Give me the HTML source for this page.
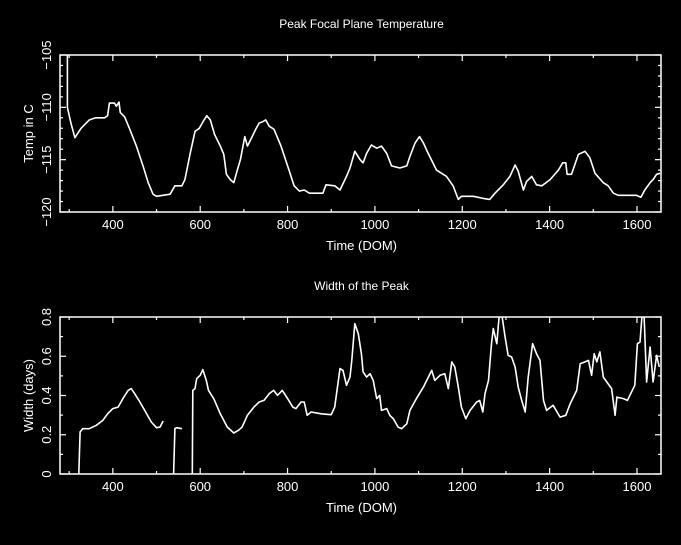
<!DOCTYPE html>
<html><head><meta charset="utf-8"><style>
html,body{margin:0;padding:0;background:#000;}
svg text{font-family:"Liberation Sans","DejaVu Sans",sans-serif;fill:#fff;}
</style></head><body>
<svg id="c" width="681" height="540" xmlns="http://www.w3.org/2000/svg"></svg>
<script>
const tempDom=[296,296,304,313,327,346,361,381,388,392,404,408,414,417,427,438,454,469,481,492,500,531,542,558,565,577,588,598,609,615,623,633,646,654,660,669,677,685,692,702,708,719,727,735,742,750,758,769,785,800,815,827,838,850,881,888,908,920,935,943,954,966,973,981,992,1004,1015,1027,1038,1057,1073,1080,1092,1102,1111,1122,1141,1164,1179,1191,1198,1225,1248,1263,1275,1294,1309,1321,1328,1340,1347,1359,1370,1382,1401,1420,1430,1437,1440,1450,1466,1481,1492,1504,1523,1534,1546,1557,1599,1609,1618,1630,1637,1645,1653];
const tempVal=[-104,-110,-111.5,-112.9,-112,-111.2,-111,-111,-110.8,-109.6,-109.6,-109.9,-109.5,-110.5,-110.9,-112,-113.7,-115.6,-117.2,-118.3,-118.5,-118.3,-117.5,-117.5,-116.9,-114.4,-112.3,-112,-111.2,-110.8,-111.2,-112.6,-113.7,-114.5,-116.4,-116.9,-117.2,-116,-115,-112.8,-113.7,-112.8,-112.1,-111.5,-111.4,-111.2,-111.8,-112.1,-113.7,-115.6,-117.5,-118,-117.9,-118.2,-118.2,-117.4,-117.5,-117.9,-116.6,-115.8,-114.2,-115,-115.3,-114.4,-113.6,-113.9,-113.7,-114.4,-115.6,-115.8,-115.6,-114.7,-113.4,-112.8,-113.4,-114.4,-116,-116.6,-117.5,-118.8,-118.5,-118.5,-118.7,-118.8,-118.2,-117.4,-116.6,-115.5,-116.1,-117.9,-117.1,-116.6,-117.4,-117.5,-116.9,-116,-115.3,-115.3,-116.4,-116.4,-114.5,-114.2,-114.8,-116.3,-117.2,-117.5,-118.2,-118.4,-118.4,-118.6,-117.9,-117.2,-116.9,-116.4,-116.3];
const widthSeg1Dom=[322,325,331,346,362,377,388,400,412,423,435,442,450,462,473,488,500,508,515];
const widthSeg1Val=[0,0.214,0.231,0.231,0.248,0.273,0.307,0.333,0.341,0.384,0.426,0.435,0.409,0.367,0.324,0.265,0.236,0.239,0.27];
const widthSeg2Dom=[539,542,546,558];
const widthSeg2Val=[0,0.231,0.236,0.231];
const widthSeg3Dom=[582,583,588,592,600,606,614,619,631,646,662,677,688,696,708,723,735,746,758,768,777,788,800,812,819,831,838,845,854,877,900,908,920,927,935,943,947,954,962,969,973,981,989,996,1004,1011,1015,1027,1034,1042,1053,1061,1073,1080,1095,1111,1130,1137,1149,1160,1168,1176,1183,1191,1198,1208,1218,1233,1240,1247,1252,1260,1267,1271,1279,1285,1290,1298,1305,1313,1321,1328,1336,1344,1351,1361,1370,1378,1386,1393,1408,1424,1437,1447,1462,1470,1481,1489,1496,1502,1508,1515,1523,1531,1542,1550,1554,1569,1578,1595,1601,1607,1612,1616,1622,1630,1637,1645,1651];
const widthSeg3Val=[0,0.426,0.435,0.486,0.503,0.532,0.477,0.426,0.384,0.307,0.239,0.209,0.223,0.239,0.299,0.341,0.367,0.375,0.409,0.426,0.401,0.426,0.384,0.341,0.333,0.367,0.367,0.299,0.316,0.307,0.302,0.341,0.537,0.528,0.452,0.494,0.579,0.766,0.715,0.613,0.52,0.494,0.511,0.477,0.384,0.401,0.324,0.333,0.299,0.282,0.239,0.231,0.256,0.324,0.384,0.443,0.528,0.477,0.503,0.511,0.435,0.571,0.545,0.443,0.341,0.282,0.324,0.367,0.375,0.316,0.409,0.477,0.664,0.741,0.664,0.82,0.82,0.698,0.605,0.596,0.545,0.443,0.375,0.316,0.494,0.664,0.613,0.579,0.375,0.324,0.35,0.29,0.299,0.358,0.426,0.562,0.571,0.579,0.503,0.613,0.571,0.622,0.494,0.469,0.435,0.299,0.392,0.384,0.375,0.452,0.664,0.672,0.82,0.82,0.469,0.647,0.469,0.605,0.545];
const xTicks=[400,600,800,1000,1200,1400,1600];
const topYTicks=[-120,-115,-110,-105];
const botYTicks=[0,0.2,0.4,0.6,0.8];

const NS='http://www.w3.org/2000/svg';
const svg=document.getElementById('c');
const L=60,R=661,XMIN=279,XMAX=1655;
const xs=d=>L+(d-XMIN)*(R-L)/(XMAX-XMIN);
function mk(tag,attrs,parent){const e=document.createElementNS(NS,tag);for(const k in attrs)e.setAttribute(k,attrs[k]);(parent||svg).appendChild(e);return e;}
function panel(id,top,bot,ymin,ymax,major,minor,yTicks,fmt,title,ytitle,series){
  const ys=v=>bot-(v-ymin)*(bot-top)/(ymax-ymin);
  const g=mk('g',{});
  
  
  const cp=mk('clipPath',{id:id+'-clip'},g);
  mk('rect',{x:L,y:top,width:R-L,height:bot-top},cp);
  const fr=mk('rect',{x:L,y:top,width:R-L,height:bot-top,fill:'none',stroke:'#fff','stroke-width':1.5},g);
  
  
  for(let d=300;d<=XMAX;d+=100){const big=d%200===0;const l=big?6:3;const x=xs(d);
    mk('line',{x1:x,y1:bot,x2:x,y2:bot-l,stroke:'#fff','stroke-width':1.2},g);
    mk('line',{x1:x,y1:top,x2:x,y2:top+l,stroke:'#fff','stroke-width':1.2},g);}
  xTicks.forEach(d=>{const t=mk('text',{x:xs(d),y:bot+17,'text-anchor':'middle','font-size':13},g);t.textContent=d;
    
    });
  const n=Math.round((ymax-ymin)/minor);
  for(let i=0;i<=n;i++){const v=ymin+i*minor;const big=Math.abs(Math.round(v/major)*major-v)<1e-9;const l=big?6:3;const y=ys(v);
    mk('line',{x1:L,y1:y,x2:L+l,y2:y,stroke:'#fff','stroke-width':1.2},g);
    mk('line',{x1:R,y1:y,x2:R-l,y2:y,stroke:'#fff','stroke-width':1.2},g);}
  yTicks.forEach(v=>{const y=ys(v);const t=mk('text',{x:0,y:0,'text-anchor':'middle','font-size':13,transform:`translate(51,${y}) rotate(-90)`},g);t.textContent=fmt(v);
    
    });
  const tt=mk('text',{x:(L+R)/2+1,y:top-27,'text-anchor':'middle','font-size':12},g);tt.textContent=title;
  
  
  const xt=mk('text',{x:(L+R)/2+1,y:bot+38,'text-anchor':'middle','font-size':13},g);xt.textContent='Time (DOM)';
  
  
  const yt=mk('text',{x:0,y:0,'text-anchor':'middle','font-size':13,transform:`translate(33,${(top+bot)/2}) rotate(-90)`},g);yt.textContent=ytitle;
  
  
  series.forEach(([dx,dv])=>{const p=mk('polyline',{points:dx.map((d,i)=>xs(d).toFixed(1)+','+ys(dv[i]).toFixed(1)).join(' '),fill:'none',stroke:'#fff','stroke-width':1.6,'stroke-linejoin':'round','clip-path':`url(#${id}-clip)`},g);
    
    });
}
panel('temperature',55,212,-120,-105,5,1,topYTicks,v=>'\u2212'+Math.abs(v),'Peak Focal Plane Temperature','Temp in C',[[tempDom,tempVal]]);
panel('width',317,474,0,0.8,0.2,0.1,botYTicks,v=>v===0?'0':v.toFixed(1),'Width of the Peak','Width (days)',[[widthSeg1Dom,widthSeg1Val],[widthSeg2Dom,widthSeg2Val],[widthSeg3Dom,widthSeg3Val]]);
</script>
</body></html>
